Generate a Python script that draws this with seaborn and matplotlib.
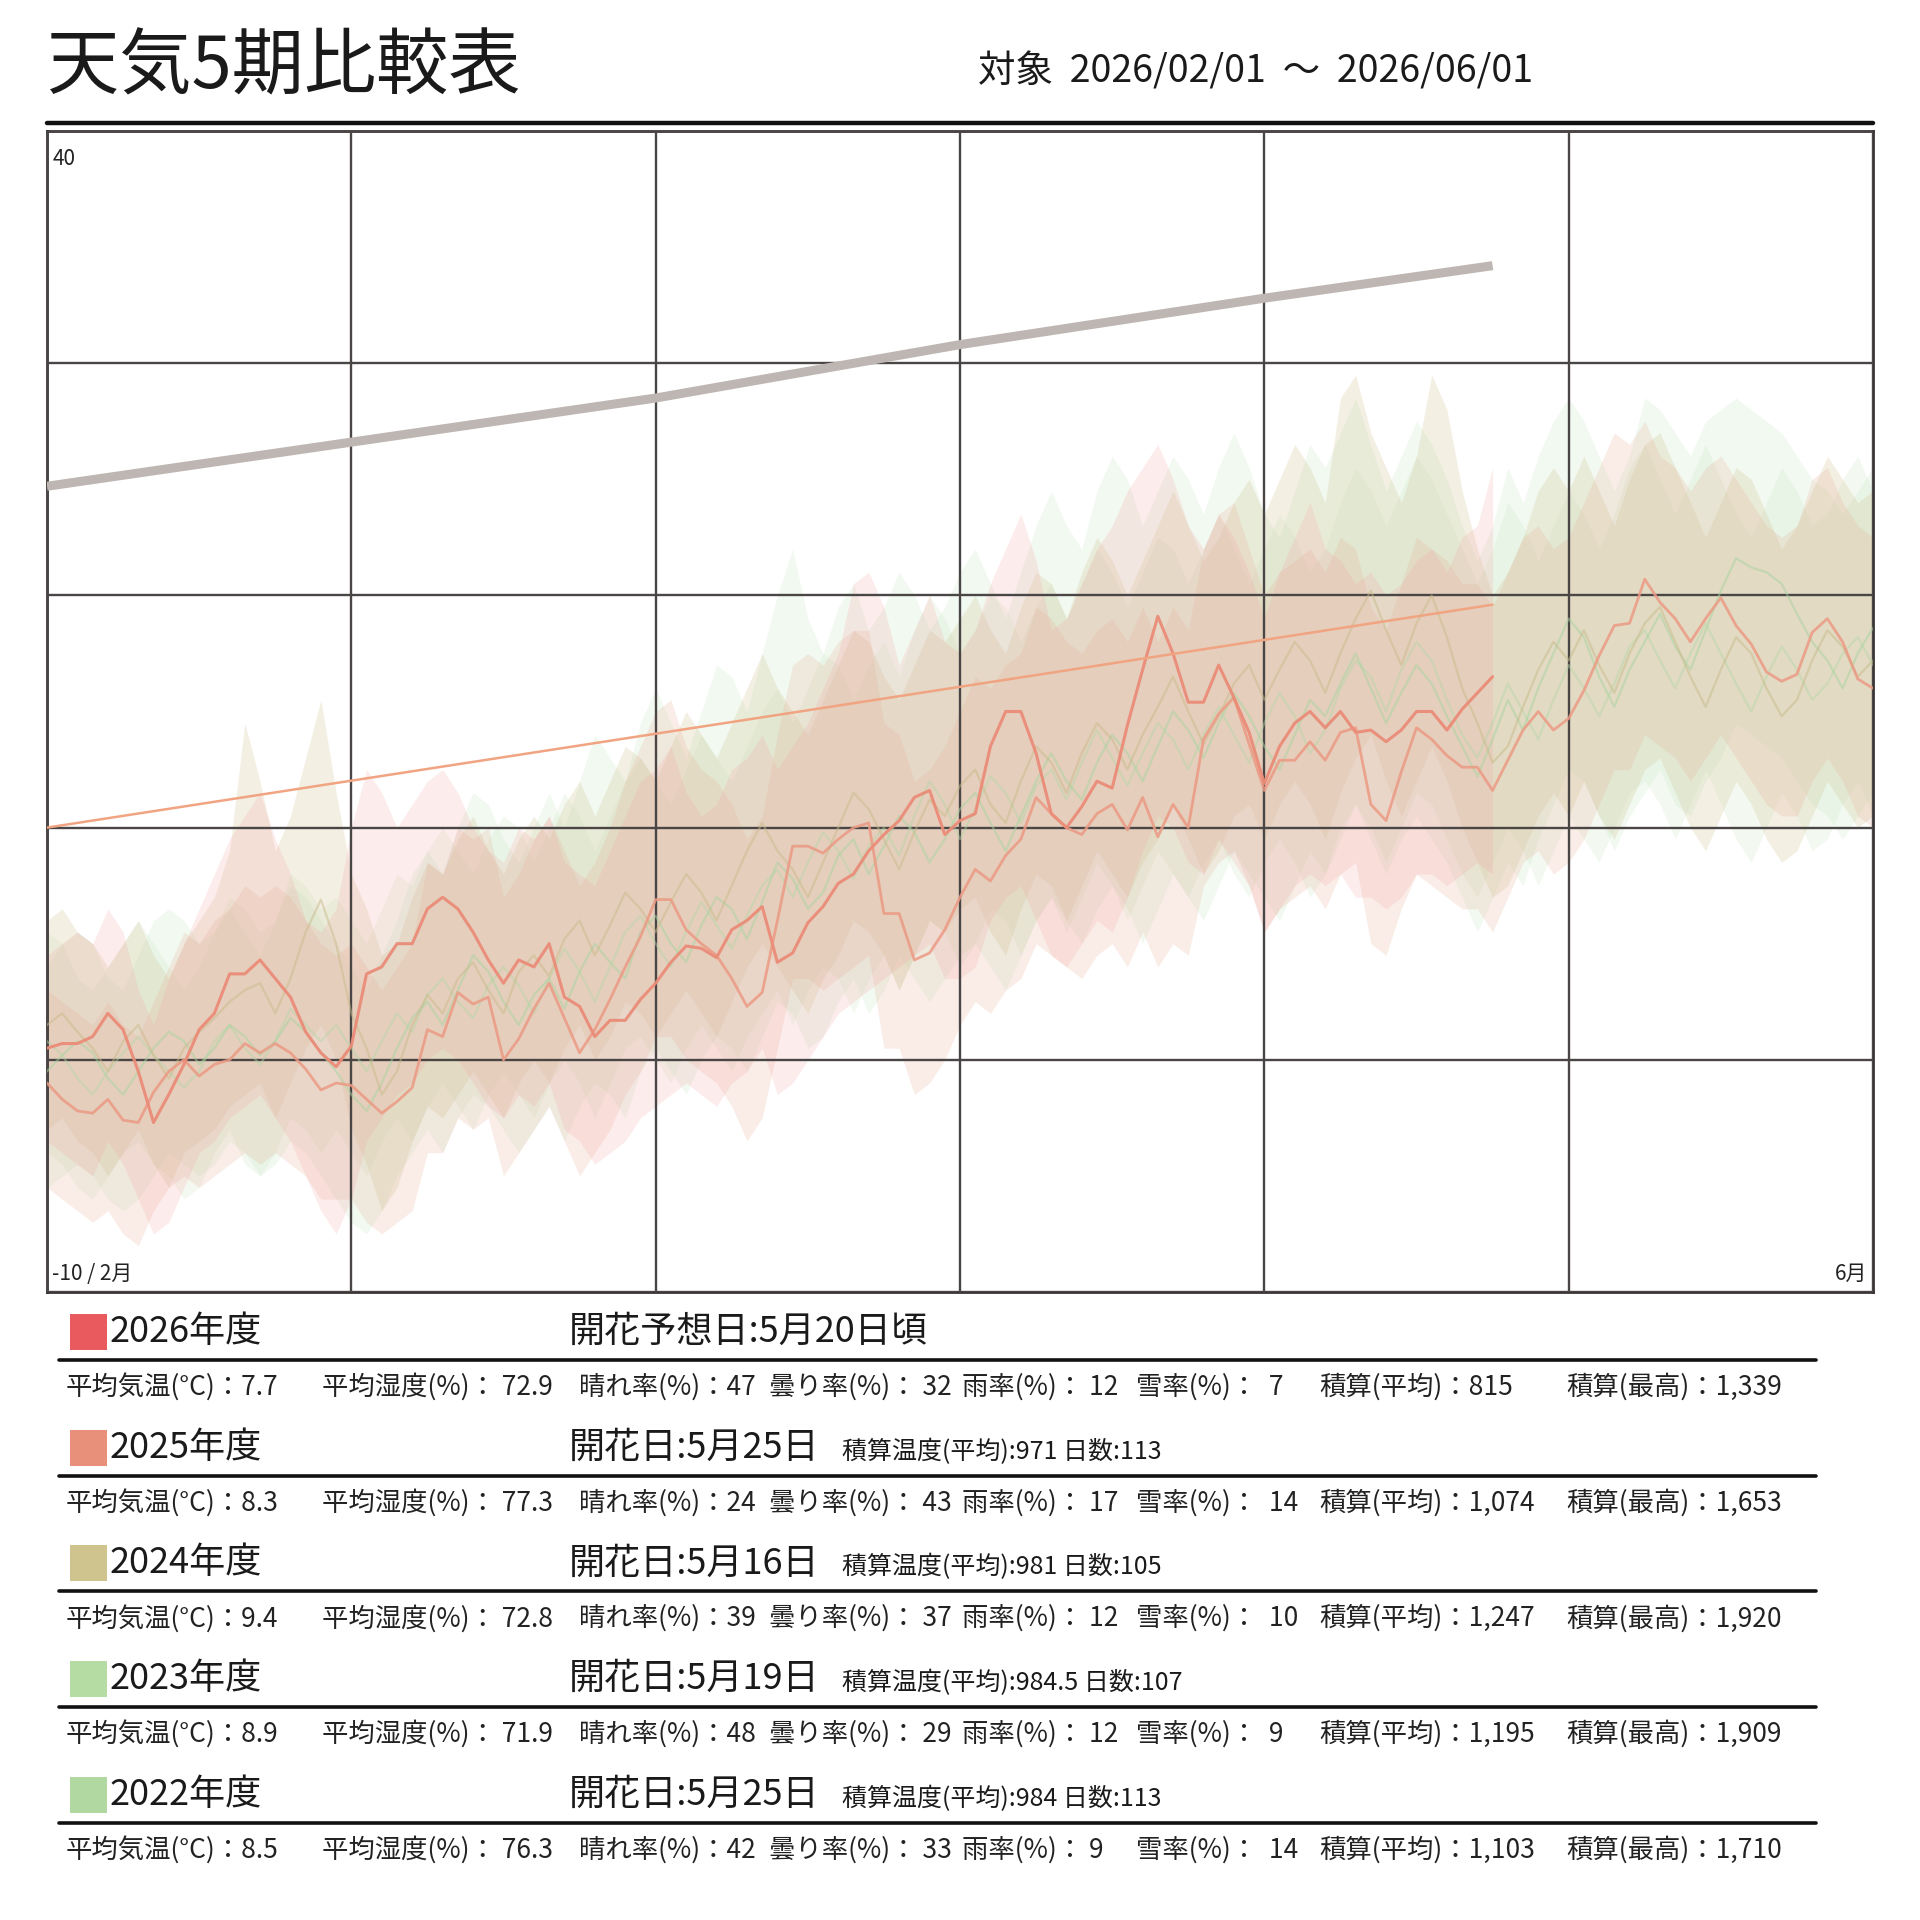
import numpy as np
import pandas as pd
import matplotlib
matplotlib.use("Agg")
import matplotlib.pyplot as plt
import seaborn as sns
from matplotlib.patches import Rectangle
from matplotlib.lines import Line2D

# ---------------- data ----------------
years = ["2026", "2025", "2024", "2023", "2022"]
legend_colors = ["#e85a5e", "#e8907a", "#cfc48e", "#b5dca2", "#b0d8a0"]
band_colors = ["#f4a0a0", "#e6a68c", "#d2c496", "#bfe2bb", "#c6e4bc"]
line_colors = ["#ea8c78", "#ec9a84", "#c8bb8a", "#a8d4a0", "#b4d8a8"]

mean_2026 = [0.5,0.7,0.7,1.0,2.0,1.3,-0.5,-2.7,-1.5,-0.2,
             1.3,2.0,3.7,3.7,4.3,3.5,2.7,1.2,0.3,-0.3,
             0.6,3.7,4.0,5.0,5.0,6.5,7.0,6.5,5.5,4.3,
             3.3,4.3,4.0,5.0,2.7,2.3,1.0,1.7,1.7,2.6,
             3.3,4.2,4.9,4.8,4.4,5.6,6.0,6.6,4.2,4.6,
             5.9,6.6,7.6,8.0,9.0,9.7,10.3,11.3,11.6,9.7,
             10.3,10.6,13.5,15.0,15.0,13.2,10.6,10.0,10.9,12.0,
             11.7,14.4,16.8,19.1,17.5,15.4,15.4,17.0,15.6,14.1,
             11.9,13.5,14.5,15.0,14.3,15.0,14.1,14.2,13.7,14.2,
             15.0,15.0,14.2,15.1,15.8,16.5]
high_2026 = [4.5,5.0,5.5,5.0,6.5,5.5,3.0,1.5,3.5,5.0,
             6.5,8.0,9.5,10.5,11.5,9.5,8.0,6.0,5.5,6.5,
             10.0,12.5,11.5,10.0,11.0,12.0,12.5,11.5,10.0,9.0,
             8.5,10.0,9.5,10.5,8.5,8.0,7.5,9.0,10.5,12.0,
             12.5,13.5,11.5,10.5,11.0,12.5,13.0,14.0,12.5,13.5,
             14.5,16.0,17.5,20.5,21.0,19.5,17.0,18.5,20.0,18.0,
             17.5,18.5,20.5,22.0,23.5,21.5,18.5,19.0,20.5,22.0,
             23.0,24.5,25.5,26.5,25.0,23.0,22.0,23.5,22.5,21.0,
             19.0,21.0,22.5,24.0,22.0,21.5,20.5,21.0,20.0,20.5,
             21.5,22.0,21.0,22.5,23.0,25.5]
low_2026 = [-3.5,-4.0,-4.5,-5.0,-3.5,-4.5,-6.0,-7.5,-7.0,-5.5,
            -4.0,-3.5,-2.5,-2.0,-1.5,-2.5,-3.5,-5.0,-6.5,-7.5,
            -6.0,-3.5,-2.5,-1.5,-1.0,0.0,0.5,0.0,-1.0,-2.0,
            -2.5,-1.5,-2.0,-1.0,-3.0,-3.5,-4.5,-4.0,-3.5,-2.5,
            -2.0,-1.5,-1.0,-1.5,-2.0,-1.0,-0.5,0.5,-1.5,-1.0,
            0.0,1.0,2.0,2.5,3.0,3.5,4.0,4.5,5.0,3.5,
            3.5,4.0,6.0,7.0,7.5,6.0,4.5,4.0,5.0,6.0,
            5.5,7.0,9.0,10.5,10.0,8.5,8.0,9.5,8.5,7.5,
            5.5,6.5,7.5,8.0,7.5,8.0,7.0,7.0,6.5,7.0,
            8.0,8.0,7.5,8.0,8.5,8.0]

mean_2025 = [-1.0,-1.7,-2.2,-2.3,-1.7,-2.6,-2.7,-1.4,-0.5,0.0,
             -0.7,-0.2,0.0,0.7,0.3,0.7,0.3,-0.4,-1.3,-1.0,
             -1.1,-1.7,-2.3,-1.8,-1.2,1.3,1.0,2.9,2.4,2.7,
             0.0,0.9,2.2,3.3,1.8,0.3,1.3,2.6,4.0,5.3,
             6.9,6.9,5.6,5.0,4.5,3.5,2.3,2.9,6.0,9.2,
             9.2,8.9,9.5,10.0,10.2,6.3,6.3,4.3,4.6,5.6,
             7.0,8.2,7.7,8.8,9.5,11.3,10.6,10.0,9.7,10.6,
             11.0,9.9,11.3,9.6,11.0,10.0,13.8,14.9,15.6,13.6,
             11.6,12.9,12.9,13.7,12.9,14.1,14.3,11.0,10.3,12.4,
             14.3,13.8,13.1,12.6,12.6,11.6,12.9,14.2,15.0,14.2,
             14.7,15.9,17.4,18.7,18.8,20.7,19.7,19.0,18.0,19.0,
             19.9,18.7,17.9,16.7,16.3,16.6,18.4,19.0,18.0,16.4,16.0]
high_2025 = [3.0,2.5,2.0,1.5,2.5,1.5,1.0,2.5,4.0,5.5,
             5.0,6.0,6.5,7.5,7.0,7.5,7.0,6.0,5.0,4.5,
             5.0,4.0,3.0,4.0,5.0,8.5,8.0,10.0,9.5,10.0,
             7.0,8.0,9.5,10.5,9.0,7.5,8.5,10.0,12.0,13.5,
             15.0,15.5,13.5,12.5,12.0,11.0,9.5,10.5,14.0,17.0,
             17.5,17.0,18.0,18.5,18.5,14.5,14.0,12.0,12.5,13.5,
             15.0,16.5,16.0,17.0,17.5,19.5,19.0,18.0,17.5,18.5,
             19.0,18.0,19.5,18.0,19.5,18.5,22.0,23.5,24.0,22.0,
             20.0,21.0,21.5,22.0,21.0,22.5,22.0,19.5,18.5,20.5,
             22.5,22.0,21.5,20.5,20.5,19.5,21.0,22.5,23.0,22.0,
             22.5,24.0,25.5,27.0,26.5,27.5,26.0,25.5,24.5,25.5,
             26.0,25.0,24.0,23.0,22.5,23.0,25.0,25.5,24.0,23.0,22.5]
low_2025 = [-5.5,-6.0,-6.5,-7.0,-6.5,-7.5,-8.0,-6.5,-5.5,-5.0,
            -5.5,-5.0,-4.5,-4.0,-4.5,-4.0,-4.5,-5.0,-6.0,-6.0,
            -6.0,-7.0,-7.5,-7.0,-6.5,-4.0,-4.0,-2.5,-3.0,-2.5,
            -5.0,-4.0,-3.0,-2.0,-3.5,-5.0,-4.0,-3.0,-1.5,-0.5,
            1.0,1.0,0.0,-0.5,-1.0,-2.0,-3.5,-2.5,0.5,3.5,
            3.5,3.0,3.5,4.0,4.5,0.5,0.5,-1.5,-1.0,0.0,
            1.5,2.5,2.0,3.0,3.5,5.0,4.5,4.0,3.5,4.5,
            5.0,4.0,5.5,4.0,5.0,4.5,7.5,8.5,9.0,7.5,
            5.5,6.5,7.0,7.5,6.5,8.0,8.5,5.0,4.5,6.5,
            8.0,7.5,7.0,6.5,6.5,5.5,7.0,8.5,9.0,8.0,
            8.5,9.5,11.0,12.5,12.5,14.0,13.5,13.0,12.0,13.0,
            14.0,13.0,12.0,11.0,10.5,10.5,12.0,13.0,12.0,10.5,10.0]

mean_2024 = [1.5,2.0,1.2,0.5,-0.5,0.8,1.5,0.2,-0.8,0.5,
             1.2,1.8,2.5,3.0,3.3,2.0,3.5,5.5,6.9,5.0,
             2.0,0.5,-1.5,-0.5,1.5,2.8,2.0,3.5,4.2,3.0,
             2.0,3.8,4.5,3.6,5.2,6.0,4.5,5.8,7.2,6.5,
             5.5,6.8,8.0,7.2,6.0,7.5,9.0,10.2,9.0,8.2,
             7.0,8.5,10.0,11.5,10.8,9.5,8.2,9.8,11.2,10.5,
             11.8,12.5,11.0,10.2,12.0,13.5,12.8,11.5,13.2,14.5,
             13.8,12.5,14.0,15.2,16.5,15.0,13.6,14.8,16.2,17.0,
             15.5,16.8,18.0,17.2,15.8,17.5,19.0,20.2,18.5,17.0,
             18.8,20.0,18.2,16.0,14.5,12.8,13.5,15.2,16.8,18.0,
             17.2,18.5,17.0,15.8,17.5,18.8,19.5,18.0,16.5,15.2,
             16.8,18.2,17.5,16.0,14.8,15.5,17.2,18.5,17.8,16.5,17.2]
high_2024 = [6.0,6.5,5.5,5.0,4.0,5.0,6.0,4.5,3.5,5.0,
             6.0,7.0,9.0,14.5,12.0,9.0,10.5,13.0,15.5,11.5,
             8.0,6.5,4.5,5.0,7.0,8.5,8.0,9.5,10.5,9.0,
             8.0,9.5,10.5,9.5,11.0,12.0,10.5,12.0,13.5,13.0,
             12.0,13.5,15.0,14.0,13.0,14.5,16.0,17.5,16.0,15.0,
             14.0,15.5,17.0,18.5,18.0,16.5,15.5,17.0,18.5,18.0,
             19.0,20.0,18.5,17.5,19.5,21.0,20.5,19.0,21.0,22.5,
             21.5,20.0,21.5,23.0,24.5,23.0,21.5,22.5,24.0,25.0,
             23.5,25.0,26.5,25.5,24.0,28.5,29.5,27.0,25.5,24.0,
             26.0,29.5,28.0,24.5,22.0,20.0,21.0,22.5,24.5,25.5,
             24.5,26.0,24.5,23.0,25.0,26.5,27.0,25.5,24.0,22.5,
             24.0,25.5,25.0,23.5,22.0,23.0,24.5,26.0,25.0,24.0,24.5]
low_2024 = [-3.0,-2.5,-3.5,-4.0,-5.0,-4.0,-3.0,-4.5,-5.5,-4.0,
            -3.5,-3.0,-2.0,-1.5,-1.0,-2.5,-1.0,0.5,1.5,0.0,
            -3.0,-4.5,-6.5,-5.5,-3.5,-2.0,-2.5,-1.5,-0.5,-1.5,
            -2.5,-1.0,0.0,-1.0,0.5,1.5,0.0,1.0,2.5,2.0,
            1.0,2.0,3.0,2.0,1.0,2.5,4.0,5.0,4.0,3.0,
            2.0,3.5,4.5,6.0,5.5,4.5,3.0,4.5,6.0,5.5,
            6.5,7.0,5.5,4.5,6.5,8.0,7.5,6.0,7.5,9.0,
            8.0,7.0,8.5,9.5,11.0,9.5,8.0,9.0,10.5,11.0,
            9.5,11.0,12.0,11.0,9.5,11.5,13.0,14.0,12.0,10.5,
            12.0,13.5,12.0,10.0,8.5,7.0,7.5,9.0,10.5,11.5,
            10.5,12.0,10.5,9.5,11.0,12.5,13.0,11.5,10.0,9.0,
            10.5,12.0,11.0,9.5,8.5,9.0,10.5,12.0,11.0,10.0,10.5]

mean_2023 = [-0.5,0.2,0.8,0.3,-0.8,-1.5,-0.5,0.5,1.2,0.8,
             -0.2,0.5,1.5,1.0,0.2,0.8,1.8,1.2,0.3,-0.5,
             -1.5,-2.2,-1.0,0.5,1.8,2.5,1.5,3.0,4.5,3.8,
             2.5,1.5,2.8,3.5,2.2,3.8,5.0,4.2,3.5,5.5,
             6.2,5.0,4.2,5.8,7.0,6.5,5.2,6.8,8.5,7.8,
             6.5,7.2,8.8,9.5,8.0,9.2,10.5,9.8,8.5,9.5,
             10.8,11.5,10.2,9.0,10.5,12.0,13.2,12.0,11.2,12.8,
             14.0,13.2,12.0,13.5,15.0,14.2,13.0,14.5,15.8,14.8,
             13.5,12.5,14.0,15.5,14.8,16.2,17.5,16.0,14.5,15.8,
             17.0,16.2,14.8,13.5,12.2,13.8,15.5,14.2,16.0,17.5,
             19.0,18.2,16.5,15.2,16.8,18.0,19.2,17.8,16.8,18.5,
             20.2,21.6,21.2,21.0,20.5,19.2,18.0,17.2,16.0,17.5,18.6]
high_2023 = [4.0,5.0,5.5,5.0,3.5,3.0,4.5,6.0,6.5,6.0,
             5.0,5.5,7.0,6.5,5.5,6.0,7.5,7.0,6.0,5.0,
             4.0,3.0,4.5,6.0,8.0,9.0,8.0,10.0,11.5,11.0,
             9.5,8.5,10.0,11.5,10.0,12.0,14.0,13.0,12.0,14.5,
             16.0,14.5,13.0,15.0,17.0,16.5,15.0,17.5,20.0,22.0,
             19.0,17.5,19.5,20.5,18.5,19.5,21.0,20.0,18.5,19.5,
             21.0,22.0,20.5,19.0,21.0,23.0,24.5,23.0,22.0,24.5,
             26.0,25.0,23.0,24.5,26.0,25.0,23.5,25.5,27.0,25.5,
             23.5,22.5,24.5,26.5,25.5,27.0,28.5,26.5,24.5,26.0,
             27.5,26.5,25.0,23.0,21.5,23.0,25.5,24.0,26.0,27.5,
             28.5,27.5,26.0,24.5,26.0,28.5,28.0,27.0,26.0,27.5,
             28.0,28.5,28.0,27.5,27.0,26.0,25.0,24.5,23.5,24.5,25.5]
low_2023 = [-5.5,-5.0,-4.5,-5.0,-6.0,-6.5,-6.0,-5.0,-4.0,-4.5,
            -5.0,-4.5,-3.5,-4.0,-5.0,-4.5,-3.5,-4.0,-5.0,-6.0,
            -7.0,-7.5,-6.5,-5.0,-4.0,-3.0,-4.0,-2.5,-1.5,-2.0,
            -3.0,-4.0,-3.0,-2.0,-3.5,-2.0,-1.0,-1.5,-2.5,-0.5,
            0.5,-0.5,-1.5,0.0,1.0,0.5,-0.5,1.0,2.5,2.0,
            0.5,1.0,2.5,3.5,2.0,3.0,4.5,3.5,2.5,3.5,
            4.5,5.0,4.0,3.0,4.5,6.0,7.0,6.0,5.0,6.5,
            7.5,6.5,5.0,6.5,8.0,7.0,6.0,7.5,9.0,8.0,
            7.0,6.0,7.5,9.0,8.0,9.5,11.0,9.5,8.0,9.5,
            10.5,9.5,8.5,7.0,5.5,7.0,8.5,7.5,9.5,11.0,
            12.5,12.0,10.5,9.0,10.5,11.5,12.5,11.0,10.5,12.0,
            13.0,14.5,14.0,13.5,13.0,12.0,11.0,10.5,9.5,10.5,11.5]

mean_2022 = [0.8,0.2,-0.8,-1.5,-0.5,0.3,1.0,0.2,-0.5,-1.2,
             -0.5,0.8,1.5,0.5,-0.2,0.8,2.2,1.5,0.8,1.5,
             0.5,-0.5,0.8,2.0,1.2,2.8,3.5,2.5,1.8,3.2,
             4.0,3.2,2.0,3.5,4.8,3.8,2.5,4.0,5.5,6.2,
             5.0,4.0,5.5,6.8,5.8,4.8,6.2,7.5,8.2,7.0,
             8.5,9.8,9.0,7.8,9.2,10.0,8.8,10.5,12.0,11.0,
             9.5,10.8,12.2,11.5,10.2,11.8,12.5,11.2,12.8,14.2,
             13.0,11.8,13.2,14.5,13.8,12.5,14.0,15.2,14.0,12.8,
             14.5,15.8,14.8,13.2,14.2,16.0,17.2,16.5,15.0,16.8,
             18.0,17.2,15.5,14.0,13.0,14.5,16.2,15.0,13.8,15.5,
             17.0,16.0,14.8,16.2,17.8,18.5,17.2,16.0,17.5,18.8,
             17.5,16.2,15.0,16.5,17.8,16.8,15.5,16.2,17.5,18.2,17.0]
high_2022 = [5.5,5.0,3.5,3.0,4.0,5.0,6.0,5.0,4.0,3.0,
             4.0,5.5,6.5,5.5,4.5,6.0,8.0,7.5,6.5,7.0,
             6.0,5.0,6.5,8.0,7.5,9.0,10.0,9.0,8.0,9.5,
             10.5,10.0,8.5,10.0,11.5,10.5,9.0,10.5,12.0,13.0,
             12.0,11.0,12.5,14.0,13.0,12.0,13.5,15.0,16.0,14.5,
             16.0,17.5,17.0,15.5,17.0,18.0,16.5,18.5,20.0,19.0,
             17.5,18.5,20.0,19.5,18.0,19.5,20.5,19.0,20.5,22.0,
             21.0,19.5,21.0,22.5,22.0,20.5,22.0,23.5,22.0,20.5,
             22.0,23.5,22.5,21.0,22.0,24.0,25.5,24.5,23.0,24.5,
             26.0,25.0,23.5,22.0,20.5,22.0,24.0,23.0,21.5,23.0,
             24.5,23.5,22.0,23.5,25.5,26.5,25.0,23.5,25.0,26.5,
             25.0,23.5,22.5,24.0,25.5,24.5,23.0,23.5,25.0,26.0,24.5]
low_2022 = [-4.0,-4.5,-5.5,-6.0,-5.0,-4.0,-3.5,-4.5,-5.0,-6.0,
            -5.5,-4.0,-3.0,-4.5,-5.0,-4.0,-2.5,-3.0,-4.0,-3.0,
            -4.0,-5.0,-3.5,-2.5,-3.5,-2.0,-1.0,-2.0,-3.0,-1.5,
            -0.5,-1.5,-2.5,-1.0,0.0,-1.0,-2.5,-1.0,0.5,1.0,
            0.0,-1.0,0.5,1.5,0.5,-0.5,1.0,2.0,3.0,1.5,
            3.0,4.0,3.5,2.0,3.5,4.5,3.0,4.5,6.0,5.5,
            4.0,5.0,6.5,6.0,4.5,6.0,7.0,5.5,7.0,8.5,
            7.5,6.0,7.5,9.0,8.0,7.0,8.5,9.5,8.0,7.0,
            8.5,9.5,8.5,7.0,8.0,10.0,11.0,10.0,8.5,10.0,
            11.5,11.0,9.5,8.0,7.0,8.5,10.0,9.0,7.5,9.0,
            10.5,9.5,8.5,10.0,11.5,12.0,11.0,9.5,11.0,12.5,
            11.0,9.5,8.5,10.0,11.5,10.5,9.0,9.5,11.0,12.0,10.5]

# cumulative-pace line and trend line (day, value)
gray_days = [0, 20, 40, 60, 80, 95]
gray_vals = [24.7, 26.6, 28.5, 30.8, 32.8, 34.2]
trend_days = [0, 95]
trend_vals = [10.0, 19.6]

# legend / stats text
bloom_text = ["開花予想日:5月20日頃", "開花日:5月25日", "開花日:5月16日", "開花日:5月19日", "開花日:5月25日"]
extra_text = ["", "積算温度(平均):971 日数:113", "積算温度(平均):981 日数:105",
              "積算温度(平均):984.5 日数:107", "積算温度(平均):984 日数:113"]
stat_labels = ["平均気温(°C)：", "平均湿度(%)： ", "晴れ率(%)：", "曇り率(%)： ",
               "雨率(%)： ", "雪率(%)：  ", "積算(平均)：", "積算(最高)："]
stat_values = [
    ["7.7", "72.9", "47", "32", "12", "7", "815", "1,339"],
    ["8.3", "77.3", "24", "43", "17", "14", "1,074", "1,653"],
    ["9.4", "72.8", "39", "37", "12", "10", "1,247", "1,920"],
    ["8.9", "71.9", "48", "29", "12", "9", "1,195", "1,909"],
    ["8.5", "76.3", "42", "33", "9", "14", "1,103", "1,710"],
]

means = [mean_2026, mean_2025, mean_2024, mean_2023, mean_2022]
highs = [high_2026, high_2025, high_2024, high_2023, high_2022]
lows = [low_2026, low_2025, low_2024, low_2023, low_2022]

rows = []
for yr, m, h, l in zip(years, means, highs, lows):
    for d in range(len(m)):
        rows.append({"year": yr, "day": d, "mean": m[d], "high": h[d], "low": l[d]})
df = pd.DataFrame(rows)

# ---------------- figure ----------------
sns.set_theme(style="white")
plt.rcParams['font.family'] = ['Noto Sans CJK JP', 'DejaVu Sans']

W = H = 1920
fig = plt.figure(figsize=(19.2, 19.2), dpi=100)
fig.patch.set_facecolor("white")

def fx(px):
    return px / W

def fy(py):
    return 1 - py / H

L, R, T, B = 47, 1873, 131, 1292
ax = fig.add_axes([fx(L), fy(B), fx(R - L), (B - T) / H])
ax.set_xlim(0, 120)
ax.set_ylim(-10, 40)

# bands (oldest first)
band_alpha = [0.20, 0.20, 0.26, 0.20, 0.20]
for i in [4, 3, 2, 1, 0]:
    sub = df[df.year == years[i]]
    ax.fill_between(sub["day"], sub["low"], sub["high"], color=band_colors[i],
                    alpha=band_alpha[i], linewidth=0, zorder=1)

# mean lines
line_alpha = [0.95, 0.85, 0.5, 0.5, 0.45]
line_w = [2.2, 2.0, 1.6, 1.6, 1.6]
for i in [4, 3, 2, 1, 0]:
    sub = df[df.year == years[i]]
    sns.lineplot(data=sub, x="day", y="mean", ax=ax, color=line_colors[i],
                 alpha=line_alpha[i], linewidth=line_w[i], zorder=3, legend=False)

ax.plot(gray_days, gray_vals, color="#bdb6b3", linewidth=6.5, solid_capstyle="butt", zorder=4)
ax.plot(trend_days, trend_vals, color="#f0a482", linewidth=1.8, zorder=4)

ax.set_xticks(np.arange(0, 121, 20))
ax.set_yticks(np.arange(-10, 41, 10))
ax.grid(True, color="#4a4646", linewidth=1.7, zorder=2)
ax.set_axisbelow(False)
for gl in ax.get_xgridlines() + ax.get_ygridlines():
    gl.set_zorder(2)
ax.tick_params(length=0, labelbottom=False, labelleft=False)
ax.set_xlabel("")
ax.set_ylabel("")
for s in ax.spines.values():
    s.set_visible(True)
    s.set_color("#3a3636")
    s.set_linewidth(2.0)

ax.text(0.003, 0.985, "40", transform=ax.transAxes, fontsize=15, va="top", ha="left", color="#222")
ax.text(0.003, 0.006, "-10 / 2月", transform=ax.transAxes, fontsize=15, va="bottom", ha="left", color="#222")
ax.text(0.997, 0.006, "6月", transform=ax.transAxes, fontsize=15, va="bottom", ha="right", color="#222")

# ---------------- header ----------------
fig.text(fx(47), fy(68), "天気5期比較表", fontsize=52, va="center", ha="left", color="#1a1a1a")
fig.text(fx(978), fy(72), "対象  2026/02/01  ～  2026/06/01", fontsize=27, va="center", ha="left", color="#1a1a1a")
fig.add_artist(Line2D([fx(L), fx(R)], [fy(123), fy(123)], color="#111", linewidth=3.2))

# ---------------- legend / stats ----------------
stat_x = [66, 322, 579, 769, 962, 1136, 1319, 1566]
step = 115.7
for i, yr in enumerate(years):
    yc = 1332 + i * step
    fig.add_artist(Rectangle((fx(70), fy(yc + 18)), 37 / W, 36 / H, color=legend_colors[i],
                             transform=fig.transFigure, linewidth=0))
    fig.text(fx(110), fy(yc), f"{yr}年度", fontsize=26, va="center", ha="left", color="#1a1a1a")
    fig.text(fx(569), fy(yc), bloom_text[i], fontsize=26, va="center", ha="left", color="#1a1a1a")
    if extra_text[i]:
        fig.text(fx(842), fy(yc + 4), extra_text[i], fontsize=18, va="center", ha="left", color="#1a1a1a")
    ly = 1360 + i * step
    fig.add_artist(Line2D([fx(59), fx(1816)], [fy(ly), fy(ly)], color="#111", linewidth=2.6))
    sy = 1387 + i * step
    for j, lab in enumerate(stat_labels):
        fig.text(fx(stat_x[j]), fy(sy), lab + stat_values[i][j], fontsize=19, va="center",
                 ha="left", color="#222")

fig.savefig("out.png", dpi=100, facecolor="white")
